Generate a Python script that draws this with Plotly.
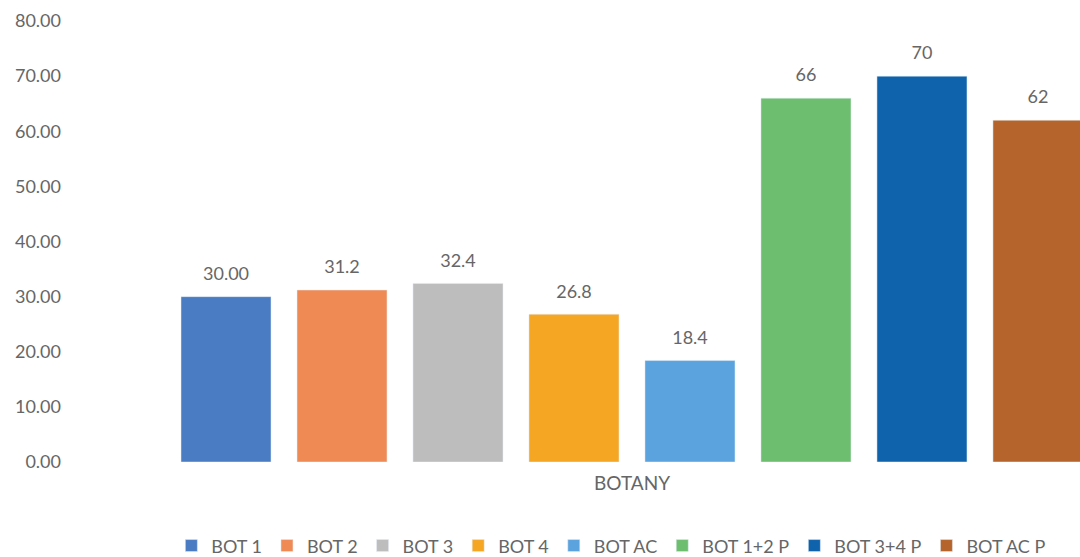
import plotly.graph_objects as go

category = ["BOTANY"]
series = ["BOT 1", "BOT 2", "BOT 3", "BOT 4", "BOT AC", "BOT 1+2 P", "BOT 3+4 P", "BOT AC P"]
values = [30.00, 31.2, 32.4, 26.8, 18.4, 66, 70, 62]
labels = ["30.00", "31.2", "32.4", "26.8", "18.4", "66", "70", "62"]
colors = ["#4a7cc4", "#f08a55", "#bdbdbd", "#f5a623", "#5ba3de", "#6dbe6e", "#0f63ac", "#b5652b"]

fam = "Lato, Open Sans, sans-serif"
grey = "#666666"

fig = go.Figure()
for name, v, c in zip(series, values, colors):
    fig.add_trace(go.Bar(x=category, y=[v], name=name, marker_color=c,
                         offsetgroup=name, hoverinfo="name+y"))

# value labels, grouped the same way as the bars
for name, v, lab in zip(series, values, labels):
    fig.add_trace(go.Scatter(x=category, y=[v], mode="markers+text", text=[lab],
                             textposition="top center", offsetgroup=name,
                             marker=dict(size=18, opacity=0), showlegend=False,
                             hoverinfo="skip", cliponaxis=False,
                             textfont=dict(family=fam, size=18, color=grey)))

fig.update_layout(
    width=1080, height=557,
    barmode="group", bargap=0.1744, bargroupgap=0.224,
    scattermode="group", scattergap=0.1744,
    plot_bgcolor="white", paper_bgcolor="white",
    margin=dict(l=70, r=0, t=21, b=95),
    font=dict(family=fam, size=18, color=grey),
    showlegend=True,
    legend=dict(orientation="h", x=0.536, xanchor="center",
                yref="container", y=0.02, yanchor="middle",
                font=dict(size=18, color=grey), itemwidth=30, traceorder="normal"),
)
fig.update_xaxes(range=[-0.5, 0.3986], showgrid=False, showline=False, ticks="",
                 ticklabelstandoff=8, tickfont=dict(size=19))
fig.update_yaxes(range=[0, 80], dtick=10, tickformat=".2f", showgrid=False,
                 zeroline=False, showline=False, ticks="", tickfont=dict(size=18),
                 ticklabelstandoff=8)

fig.write_html("out.html", config={"displayModeBar": False},
               post_script="document.body.style.margin='0';")
